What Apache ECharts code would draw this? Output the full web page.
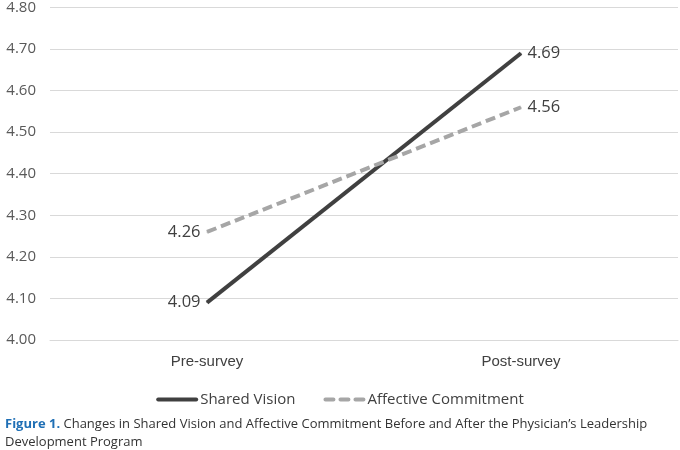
<!DOCTYPE html>
<html><head><meta charset="utf-8">
<script src="https://cdn.jsdelivr.net/npm/echarts@6/dist/echarts.min.js"></script>
<style>html,body{margin:0;padding:0;background:#fff}#c{width:680px;height:450px}</style>
</head><body><div id="c"></div>
<script>
const categories = ['Pre-survey', 'Post-survey'];
const sharedVision = [4.09, 4.69];
const affectiveCommitment = [4.26, 4.56];
const seriesNames = ['Shared Vision', 'Affective Commitment'];
const captionBold = 'Figure 1.';
const captionLine1 = ' Changes in Shared Vision and Affective Commitment Before and After the Physician\u2019s Leadership';
const captionLine2 = 'Development Program';

const chart = echarts.init(document.getElementById('c'));
const lbl = (pos) => ({show: true, position: pos, distance: 6, color: '#404040', fontSize: 16.5, fontFamily: 'Open Sans', formatter: p => p.value.toFixed(2)});
chart.setOption({
  animation: false,
  grid: {left: 50, right: 2, top: 6, bottom: 110},
  title: {
    left: 0, top: 410,
    text: '{b|' + captionBold + '}{n|' + captionLine1 + '}\n{n|' + captionLine2 + '}',
    textStyle: {
      fontWeight: 'normal',
      rich: {
        b: {color: '#1f6fb5', fontWeight: 'bold', fontSize: 13, fontFamily: 'Open Sans', lineHeight: 18},
        n: {color: '#333333', fontWeight: 'normal', fontSize: 13, fontFamily: 'Open Sans', lineHeight: 18}
      }
    }
  },
  legend: {
    top: 387, left: 'center', itemWidth: 42, itemHeight: 5, itemGap: 28,
    textStyle: {color: '#404040', fontSize: 15, fontFamily: 'Open Sans', padding: [0,0,0,-3]},
    data: [
      {name: seriesNames[0], icon: 'path://M2,0H40A2,2 0 0 1 40,4H2A2,2 0 0 1 2,0Z'},
      {name: seriesNames[1], icon: 'path://M2,0H10A2,2 0 0 1 10,4H2A2,2 0 0 1 2,0Z M17,0H25A2,2 0 0 1 25,4H17A2,2 0 0 1 17,0Z M32,0H40A2,2 0 0 1 40,4H32A2,2 0 0 1 32,0Z'}
    ]
  },
  xAxis: {
    type: 'category', data: categories, boundaryGap: true,
    axisLine: {show: true, lineStyle: {color: '#d9d9d9', width: 1}},
    axisTick: {show: false},
    axisLabel: {color: '#404040', fontSize: 15, fontFamily: 'Liberation Sans', margin: 14}
  },
  yAxis: {
    type: 'value', min: 4.0, max: 4.8, interval: 0.1,
    axisLine: {show: false}, axisTick: {show: false},
    axisLabel: {color: '#595959', fontSize: 15, fontFamily: 'Open Sans', margin: 14, formatter: v => v.toFixed(2)},
    splitLine: {lineStyle: {color: '#d9d9d9', width: 1}}
  },
  series: [
    {name: seriesNames[0], type: 'line',
     data: sharedVision.map((v, i) => ({value: v, label: lbl(i === 0 ? 'left' : 'right')})),
     symbol: 'circle', symbolSize: 1, showSymbol: true,
     lineStyle: {color: '#404040', width: 4}, itemStyle: {color: '#404040'}},
    {name: seriesNames[1], type: 'line',
     data: affectiveCommitment.map((v, i) => ({value: v, label: lbl(i === 0 ? 'left' : 'right')})),
     symbol: 'circle', symbolSize: 1, showSymbol: true,
     lineStyle: {color: '#a6a6a6', width: 4, type: [10, 5]}, itemStyle: {color: '#a6a6a6'}}
  ]
});
</script></body></html>
